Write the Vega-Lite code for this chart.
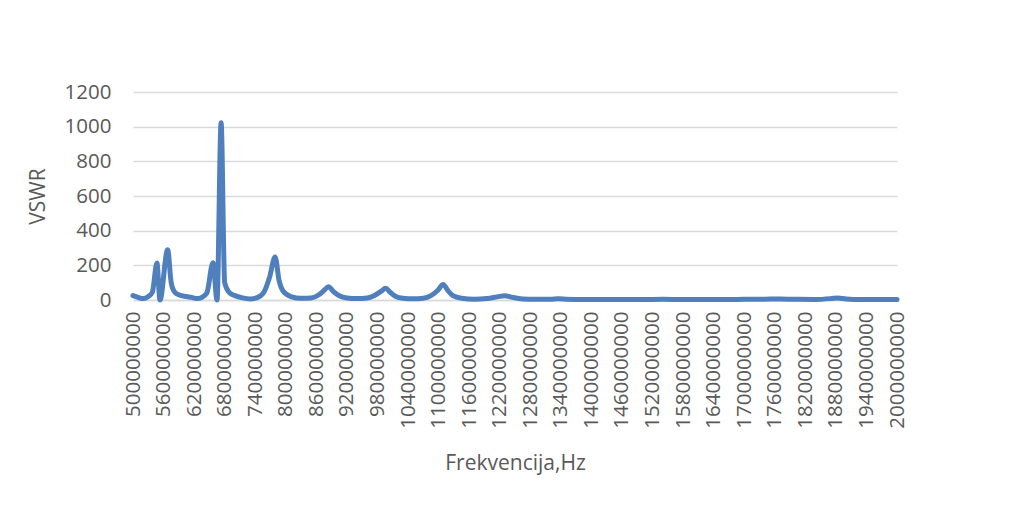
{
  "$schema": "https://vega.github.io/schema/vega-lite/v6.json",
  "width": 764,
  "height": 208,
  "autosize": {"type": "none"},
  "padding": {"left": 133, "top": 92, "right": 122, "bottom": 229},
  "background": "white",
  "config": {"view": {"stroke": null}, "font": "Open Sans"},
  "data": {"values": [
    {"f": 500000000, "vswr": 25}, {"f": 510000000, "vswr": 15}, {"f": 520000000, "vswr": 8},
    {"f": 530000000, "vswr": 20}, {"f": 538000000, "vswr": 45}, {"f": 547000000, "vswr": 213},
    {"f": 553000000, "vswr": 0}, {"f": 568000000, "vswr": 290}, {"f": 575000000, "vswr": 100},
    {"f": 582000000, "vswr": 45}, {"f": 590000000, "vswr": 30}, {"f": 605000000, "vswr": 20},
    {"f": 615000000, "vswr": 15}, {"f": 625000000, "vswr": 8}, {"f": 635000000, "vswr": 15},
    {"f": 645000000, "vswr": 40}, {"f": 657000000, "vswr": 215}, {"f": 665000000, "vswr": 0},
    {"f": 673000000, "vswr": 1023}, {"f": 680000000, "vswr": 100}, {"f": 690000000, "vswr": 40},
    {"f": 700000000, "vswr": 25}, {"f": 715000000, "vswr": 12}, {"f": 730000000, "vswr": 6},
    {"f": 745000000, "vswr": 15}, {"f": 758000000, "vswr": 50}, {"f": 768000000, "vswr": 130},
    {"f": 779000000, "vswr": 248}, {"f": 787000000, "vswr": 110}, {"f": 795000000, "vswr": 50},
    {"f": 810000000, "vswr": 20}, {"f": 830000000, "vswr": 10}, {"f": 850000000, "vswr": 12},
    {"f": 865000000, "vswr": 30}, {"f": 875000000, "vswr": 55}, {"f": 884000000, "vswr": 77},
    {"f": 893000000, "vswr": 50}, {"f": 905000000, "vswr": 25}, {"f": 920000000, "vswr": 12},
    {"f": 940000000, "vswr": 8}, {"f": 960000000, "vswr": 12}, {"f": 975000000, "vswr": 28},
    {"f": 987000000, "vswr": 50}, {"f": 996000000, "vswr": 68}, {"f": 1005000000, "vswr": 45},
    {"f": 1015000000, "vswr": 22}, {"f": 1030000000, "vswr": 10}, {"f": 1050000000, "vswr": 7},
    {"f": 1070000000, "vswr": 10}, {"f": 1085000000, "vswr": 25}, {"f": 1098000000, "vswr": 55},
    {"f": 1109000000, "vswr": 90}, {"f": 1118000000, "vswr": 55}, {"f": 1128000000, "vswr": 25},
    {"f": 1145000000, "vswr": 10}, {"f": 1170000000, "vswr": 5}, {"f": 1195000000, "vswr": 8},
    {"f": 1215000000, "vswr": 18}, {"f": 1230000000, "vswr": 25}, {"f": 1245000000, "vswr": 15},
    {"f": 1265000000, "vswr": 6}, {"f": 1290000000, "vswr": 4}, {"f": 1320000000, "vswr": 4},
    {"f": 1335000000, "vswr": 7}, {"f": 1350000000, "vswr": 5}, {"f": 1380000000, "vswr": 3},
    {"f": 1420000000, "vswr": 3}, {"f": 1460000000, "vswr": 3}, {"f": 1500000000, "vswr": 3},
    {"f": 1540000000, "vswr": 4}, {"f": 1580000000, "vswr": 3}, {"f": 1620000000, "vswr": 3},
    {"f": 1660000000, "vswr": 3}, {"f": 1700000000, "vswr": 4}, {"f": 1740000000, "vswr": 5},
    {"f": 1770000000, "vswr": 6}, {"f": 1800000000, "vswr": 4}, {"f": 1840000000, "vswr": 3},
    {"f": 1870000000, "vswr": 8}, {"f": 1884000000, "vswr": 12}, {"f": 1900000000, "vswr": 6},
    {"f": 1930000000, "vswr": 3}, {"f": 1960000000, "vswr": 3}, {"f": 2000000000, "vswr": 3}
  ]},
  "mark": {"type": "line", "color": "#4f7fbd", "strokeWidth": 5, "strokeJoin": "round", "strokeCap": "round", "clip": false, "interpolate": "monotone"},
  "encoding": {
    "x": {
      "field": "f", "type": "quantitative",
      "scale": {"domain": [500000000, 2000000000], "nice": false, "zero": false},
      "axis": {
        "title": "Frekvencija,Hz",
        "values": [500000000, 560000000, 620000000, 680000000, 740000000, 800000000, 860000000, 920000000, 980000000, 1040000000, 1100000000, 1160000000, 1220000000, 1280000000, 1340000000, 1400000000, 1460000000, 1520000000, 1580000000, 1640000000, 1700000000, 1760000000, 1820000000, 1880000000, 1940000000, 2000000000],
        "format": "d",
        "labelAngle": 270,
        "labelFontSize": 20.5,
        "labelColor": "#595959",
        "labelPadding": 11,
        "labelOverlap": false,
        "labelFlush": false,
        "ticks": false,
        "grid": false,
        "domain": true,
        "domainColor": "#d9d9d9",
        "domainWidth": 1.5,
        "titleFontSize": 21,
        "titleFontWeight": "normal",
        "titleColor": "#595959",
        "titlePadding": 24
      }
    },
    "y": {
      "field": "vswr", "type": "quantitative",
      "scale": {"domain": [0, 1200], "nice": false},
      "axis": {
        "title": "VSWR",
        "values": [0, 200, 400, 600, 800, 1000, 1200],
        "format": "d",
        "labelFontSize": 20.5,
        "labelColor": "#595959",
        "labelPadding": 22,
        "ticks": false,
        "domain": false,
        "gridColor": "#d9d9d9",
        "gridWidth": 1.5,
        "titleFontSize": 21,
        "titleFontWeight": "normal",
        "titleColor": "#595959",
        "titlePadding": 16
      }
    }
  }
}
